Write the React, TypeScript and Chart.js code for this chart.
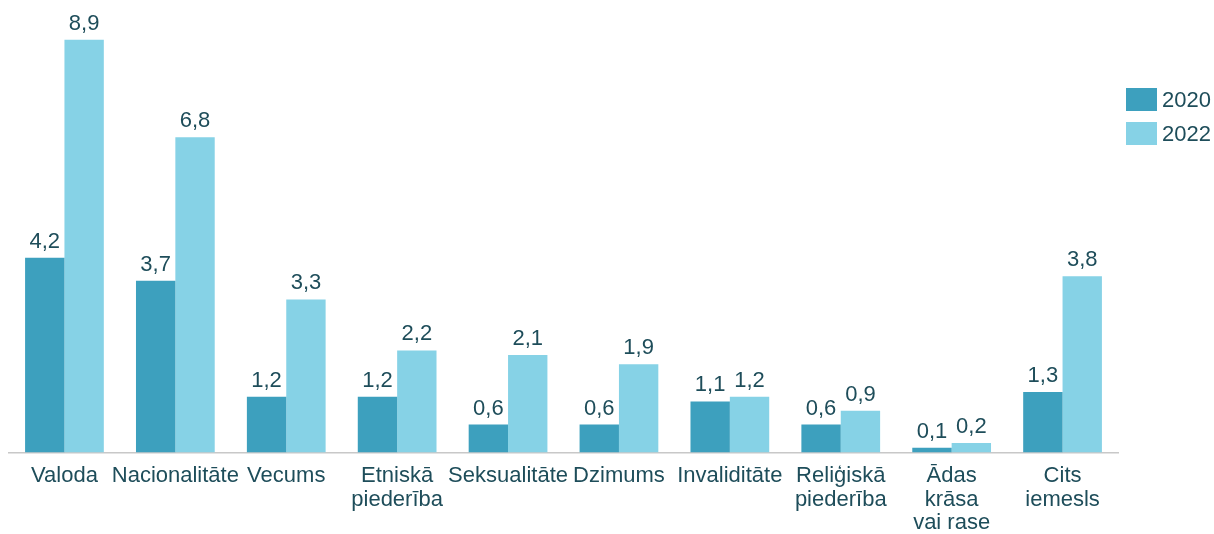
import React, { useEffect, useRef } from "react";
import { Chart, registerables } from "chart.js";

Chart.register(...registerables);

const categories: (string | string[])[] = [
  "Valoda",
  "Nacionalitāte",
  "Vecums",
  ["Etniskā", "piederība"],
  "Seksualitāte",
  "Dzimums",
  "Invaliditāte",
  ["Reliģiskā", "piederība"],
  ["Ādas", "krāsa", "vai rase"],
  ["Cits", "iemesls"],
];
const values2020 = [4.2, 3.7, 1.2, 1.2, 0.6, 0.6, 1.1, 0.6, 0.1, 1.3];
const values2022 = [8.9, 6.8, 3.3, 2.2, 2.1, 1.9, 1.2, 0.9, 0.2, 3.8];
const seriesNames = ["2020", "2022"];
const seriesColors = ["#3DA0BE", "#86D2E6"];

const TEXT_COLOR = "#1E4D5A";
const FONT_FAMILY = "'Liberation Sans', Arial, sans-serif";
const FONT_SIZE = 22;

const fmt = (v: number) => v.toFixed(1).replace(".", ",");

const valueLabels = {
  id: "valueLabels",
  afterDatasetsDraw(chart: any) {
    const ctx = chart.ctx;
    ctx.save();
    ctx.font = `${FONT_SIZE}px ${FONT_FAMILY}`;
    ctx.fillStyle = TEXT_COLOR;
    ctx.textAlign = "center";
    ctx.textBaseline = "alphabetic";
    chart.data.datasets.forEach((ds: any, di: number) => {
      const meta = chart.getDatasetMeta(di);
      meta.data.forEach((bar: any, i: number) => {
        ctx.fillText(fmt(ds.data[i]), bar.x, bar.y - 10);
      });
    });
    ctx.restore();
  },
};

const customLegend = {
  id: "customLegend",
  afterDraw(chart: any) {
    const ctx = chart.ctx;
    ctx.save();
    ctx.font = `${FONT_SIZE}px ${FONT_FAMILY}`;
    ctx.textAlign = "left";
    ctx.textBaseline = "middle";
    chart.data.datasets.forEach((ds: any, di: number) => {
      const x = 1126;
      const y = 88 + di * 34;
      ctx.fillStyle = ds.backgroundColor;
      ctx.fillRect(x, y, 31, 23);
      ctx.fillStyle = TEXT_COLOR;
      ctx.fillText(ds.label, x + 36, y + 12.5);
    });
    ctx.restore();
  },
};

export default function App() {
  const canvasRef = useRef<HTMLCanvasElement | null>(null);

  useEffect(() => {
    document.body.style.margin = "0";
    document.body.style.overflow = "hidden";
    const canvas = canvasRef.current;
    if (!canvas) return;
    const chart = new Chart(canvas, {
      type: "bar",
      data: {
        labels: categories,
        datasets: [
          {
            label: seriesNames[0],
            data: values2020,
            backgroundColor: seriesColors[0],
            categoryPercentage: 0.71,
            barPercentage: 1.0,
          },
          {
            label: seriesNames[1],
            data: values2022,
            backgroundColor: seriesColors[1],
            categoryPercentage: 0.71,
            barPercentage: 1.0,
          },
        ],
      },
      options: {
        animation: false,
        responsive: true,
        maintainAspectRatio: false,
        layout: { padding: { left: 9, right: 96, top: 12, bottom: 0 } },
        plugins: {
          legend: { display: false },
          tooltip: { enabled: false },
        },
        scales: {
          x: {
            grid: { display: false, drawTicks: false },
            border: { display: true, color: "#C8C8C8", width: 1.5 },
            ticks: {
              color: TEXT_COLOR,
              font: { family: FONT_FAMILY, size: FONT_SIZE, lineHeight: 1.07 },
              padding: 12,
              maxRotation: 0,
              autoSkip: false,
            },
          },
          y: {
            display: false,
            min: 0,
            max: 9.5,
          },
        },
      },
      plugins: [valueLabels, customLegend],
    });
    return () => chart.destroy();
  }, []);

  return (
    <div style={{ width: 1214, height: 547, position: "relative" }}>
      <canvas ref={canvasRef} />
    </div>
  );
}
